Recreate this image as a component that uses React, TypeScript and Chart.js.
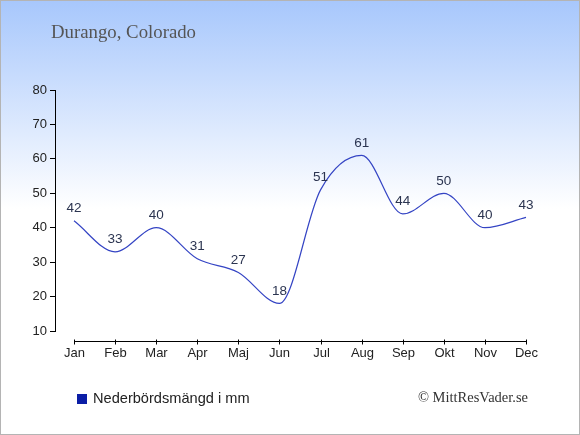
import React, { useEffect, useRef } from "react";
import { Chart, registerables } from "chart.js";

Chart.register(...registerables);

const months: string[] = ["Jan", "Feb", "Mar", "Apr", "Maj", "Jun", "Jul", "Aug", "Sep", "Okt", "Nov", "Dec"];
const precipitation: number[] = [42, 33, 40, 31, 27, 18, 51, 61, 44, 50, 40, 43];
const yMin = 10;
const yMax = 80;
const yStep = 10;
const titleText = "Durango, Colorado";
const seriesLabel = "Nederbördsmängd i mm";
const creditText = "© MittResVader.se";

export default function App() {
  const ref = useRef<HTMLCanvasElement | null>(null);

  useEffect(() => {
    document.body.style.margin = "0";
    const canvas = ref.current;
    if (!canvas) return;

    const decorPlugin = {
      id: "decor",
      beforeDraw(chart: any) {
        const { ctx, width, height } = chart;
        ctx.save();
        const g = ctx.createLinearGradient(0, 0, 0, height);
        g.addColorStop(0, "#a7c7fc");
        g.addColorStop(0.48, "#ffffff");
        g.addColorStop(1, "#ffffff");
        ctx.fillStyle = g;
        ctx.fillRect(0, 0, width, height);
        ctx.restore();
      },
      afterDraw(chart: any) {
        const { ctx, width, height } = chart;
        const xs = chart.scales.x;
        ctx.save();
        // border
        ctx.strokeStyle = "#b4b4b4";
        ctx.lineWidth = 1;
        ctx.strokeRect(0.5, 0.5, width - 1, height - 1);

        // x axis
        const axisY = 341.5;
        const x0 = xs.getPixelForValue(0);
        const x1 = xs.getPixelForValue(months.length - 1);
        ctx.strokeStyle = "#000";
        ctx.beginPath();
        ctx.moveTo(x0, axisY);
        ctx.lineTo(x1 + 1, axisY);
        ctx.stroke();
        ctx.fillStyle = "#222";
        ctx.font = "13px Arial, 'Liberation Sans', sans-serif";
        ctx.textAlign = "center";
        ctx.textBaseline = "alphabetic";
        months.forEach((m, i) => {
          const px = Math.round(xs.getPixelForValue(i)) + 0.5;
          ctx.beginPath();
          ctx.moveTo(px, axisY - 2);
          ctx.lineTo(px, axisY + 3);
          ctx.stroke();
          ctx.fillText(m, px, 357);
        });

        // title
        ctx.fillStyle = "#555";
        ctx.font = "18.8px 'Liberation Serif', 'DejaVu Serif', serif";
        ctx.textAlign = "left";
        ctx.fillText(titleText, 51, 38);

        // legend
        ctx.fillStyle = "#0b1ea6";
        ctx.fillRect(77, 394, 10, 10);
        ctx.fillStyle = "#222";
        ctx.font = "14.6px Arial, 'Liberation Sans', sans-serif";
        ctx.fillText(seriesLabel, 93, 403);

        // credit
        ctx.fillStyle = "#333";
        ctx.font = "14.5px 'Liberation Serif', 'DejaVu Serif', serif";
        ctx.textAlign = "right";
        ctx.fillText(creditText, 528, 402);
        ctx.restore();
      },
      afterDatasetsDraw(chart: any) {
        const { ctx } = chart;
        const meta = chart.getDatasetMeta(0);
        ctx.save();
        ctx.fillStyle = "#2b3450";
        ctx.font = "13.5px Arial, 'Liberation Sans', sans-serif";
        ctx.textAlign = "center";
        ctx.textBaseline = "alphabetic";
        meta.data.forEach((pt: any, i: number) => {
          ctx.fillText(String(precipitation[i]), pt.x, pt.y - 8.5);
        });
        ctx.restore();
      },
    };

    const chart = new Chart(canvas, {
      type: "line",
      data: {
        datasets: [
          {
            label: seriesLabel,
            data: precipitation.map((v, i) => ({ x: i, y: v })),
            borderColor: "#3444c4",
            borderWidth: 1.2,
            pointRadius: 0,
            fill: false,
            cubicInterpolationMode: "monotone",
            clip: false as any,
          },
        ],
      },
      options: {
        animation: false,
        responsive: false,
        devicePixelRatio: 1,
        layout: { padding: { left: 0, right: 54, top: 90, bottom: 104 } },
        plugins: { legend: { display: false }, tooltip: { enabled: false }, title: { display: false } },
        scales: {
          x: { type: "linear", min: -0.4624, max: months.length - 1, display: false },
          y: {
            type: "linear",
            min: yMin,
            max: yMax,
            ticks: { stepSize: yStep, color: "#222", font: { family: "Arial, 'Liberation Sans', sans-serif", size: 13 }, padding: 3 },
            grid: { display: true, drawOnChartArea: false, drawTicks: true, tickLength: 5, color: "#000" },
            border: { display: true, color: "#000", width: 1 },
            afterFit(scale: any) {
              scale.width = 55;
            },
          },
        },
      },
      plugins: [decorPlugin],
    });

    return () => chart.destroy();
  }, []);

  return <canvas ref={ref} width={580} height={435} style={{ display: "block" }} />;
}
